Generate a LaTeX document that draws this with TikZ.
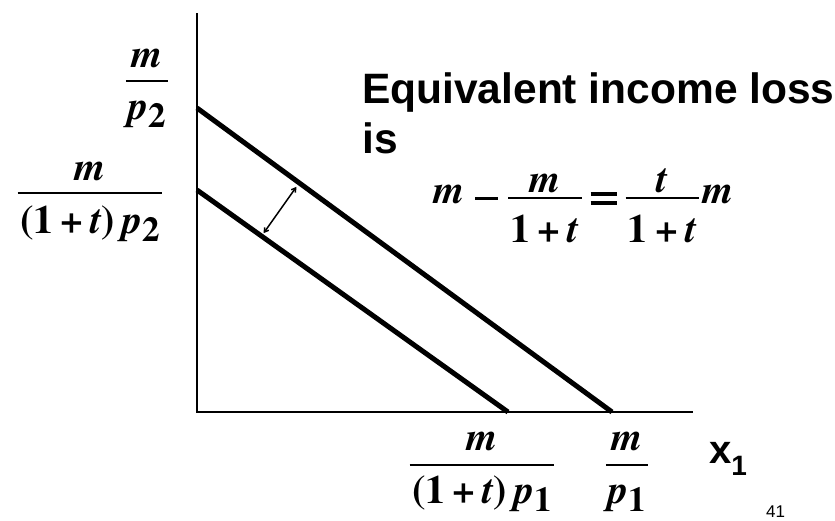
\documentclass[tikz,border=0pt]{standalone}
\usepackage{fontspec}
\setmainfont{TeX Gyre Termes}
\setsansfont{Liberation Sans}
\usepackage{tikz}
\usetikzlibrary{arrows.meta}

% bold italic letters, bold numerals, big lowered subscripts
\newcommand{\mvar}[1]{\textbf{\textit{#1}}}
\newcommand{\mnum}[1]{\textbf{#1}}
\newcommand{\msub}[1]{\raisebox{-0.2em}{\fontsize{35}{35}\selectfont\textbf{#1}}}
\newcommand{\msp}{\hspace{0.18em}}
\newcommand{\mplus}{\msp\mnum{+}\msp}
\newcommand{\mminus}{\rule[3pt]{23pt}{3pt}}
\newcommand{\meq}{\rlap{\rule[7pt]{26pt}{4pt}}\rule[-2pt]{26pt}{4pt}}

% fraction with the bar on the baseline
\newdimen\fbwd
\newsavebox\fbnum
\newsavebox\fbden
\newcommand{\barfrac}[4]{%
  \sbox\fbnum{#1}\sbox\fbden{#2}%
  \fbwd=\wd\fbnum
  \ifdim\wd\fbden>\fbwd \fbwd=\wd\fbden\fi
  \advance\fbwd by 0.12em
  \makebox[\fbwd]{\raisebox{#3}{\usebox\fbnum}}%
  \hspace*{-\fbwd}\rule[-0.75pt]{\fbwd}{1.5pt}\hspace*{-\fbwd}%
  \makebox[\fbwd]{\raisebox{-#4}{\usebox\fbden}}}

\tikzset{
  axis/.style   = {line width=2.6pt},
  budget/.style = {line width=5pt},
  gap/.style    = {{Straight Barb[length=4pt,width=5pt]}-{Straight Barb[length=4pt,width=5pt]},
                   line width=1.5pt, shorten <=1pt, shorten >=1pt},
  lab/.style    = {inner sep=0pt, anchor=base, font=\fontsize{40}{46}\selectfont},
  txt/.style    = {inner sep=0pt, font=\sffamily\bfseries\fontsize{42.5}{50}\selectfont},
}

\begin{document}
\begin{tikzpicture}[x=1pt, y=-1pt]
  \useasboundingbox (0,0) rectangle (835,520);

  % ---------------- Axes ----------------
  \coordinate (O)    at (197,412);
  \coordinate (ytop) at (197,13);
  \coordinate (xend) at (693,412);
  \draw[axis] (ytop) -- (O) -- (xend);

  % ---------------- Budget lines ----------------
  \coordinate (out2) at (197,108);
  \coordinate (out1) at (612,412);
  \coordinate (in2)  at (197,190);
  \coordinate (in1)  at (508,412);
  \draw[budget] (out2) -- (out1);
  \draw[budget] (in2) -- (in1);
  \coordinate (gapin)  at (263,234);
  \coordinate (gapout) at (297,186);
  \draw[gap] (gapin) -- (gapout);

  % ---------------- Intercepts ----------------
  \node[lab] (ypre) at (147,81)
    {\barfrac{\mvar{m}}{\mvar{p}\msub{2}}{14pt}{38pt}};
  \node[lab] (ypost) at (90,193)
    {\barfrac{\mvar{m}}{\mnum{(1}\mplus\mvar{t}\mnum{)}\msp\mvar{p}\msub{2}}{13pt}{40pt}};
  \node[lab] (xpost) at (482,465)
    {\barfrac{\mvar{m}}{\mnum{(1}\mplus\mvar{t}\mnum{)}\msp\mvar{p}\msub{1}}{15pt}{38pt}};
  \node[lab] (xpre) at (627,465)
    {\barfrac{\mvar{m}}{\mvar{p}\msub{1}}{15pt}{38pt}};
  \node[inner sep=0pt, anchor=base west, font=\sffamily\bfseries\fontsize{40}{40}\selectfont]
    (xlab) at (709,463) {x\raisebox{-0.3em}{\fontsize{28}{28}\selectfont 1}};

  % ---------------- Loss ----------------
  \node[txt, anchor=base west, align=left] (loss) at (362,153)
    {Equivalent income loss\\is};
  \node[lab, anchor=base west] (eq) at (433,203)
    {\mvar{m}\hspace{11pt}\mminus\hspace{10pt}%
     \raisebox{5pt}{\barfrac{\mvar{m}}{\mnum{1}\mplus\mvar{t}}{6pt}{44pt}}%
     \hspace{9pt}\meq\hspace{9pt}%
     \raisebox{5pt}{\barfrac{\mvar{t}}{\mnum{1}\mplus\mvar{t}}{6pt}{44pt}}%
     \hspace{4pt}\mvar{m}};

  \node[inner sep=0pt, anchor=base west, font=\sffamily\fontsize{17}{17}\selectfont]
    (page) at (766,517) {41};
\end{tikzpicture}
\end{document}
